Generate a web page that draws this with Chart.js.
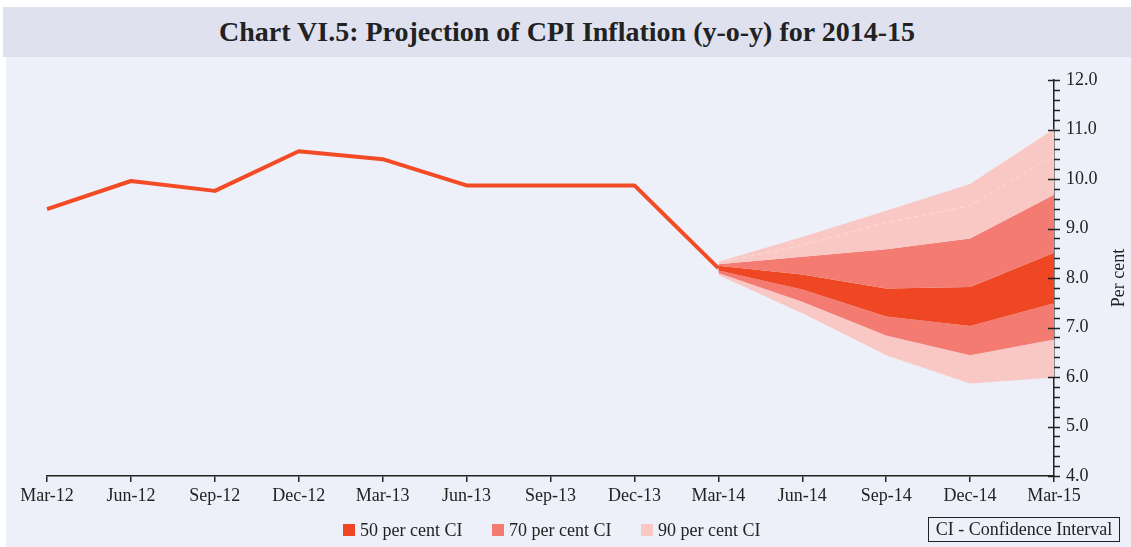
<!DOCTYPE html>
<html>
<head>
<meta charset="utf-8">
<title>Chart VI.5</title>
<script src="https://cdn.jsdelivr.net/npm/chart.js@4.4.1/dist/chart.umd.min.js"></script>
<style>
  html, body { margin: 0; padding: 0; background: #ffffff; }
  body { width: 1131px; height: 547px; position: relative; overflow: hidden; font-family: "Liberation Serif", "Times New Roman", serif; color: #222; }
  #titulo { position: absolute; left: 3px; top: 7px; width: 1128px; height: 50px; background: #dfe1ef; font-size: 28px; font-weight: bold; line-height: 50px; text-align: center; }
  #fondo { position: absolute; left: 6px; top: 57px; width: 1125px; height: 490px; background: #edf0f8; }
  #grafico { position: absolute; left: 0; top: 0; }
  #leyenda { position: absolute; left: 343px; top: 518px; display: flex; font-size: 18px; line-height: 24px; }
  #leyenda .item { width: 149px; display: flex; align-items: center; }
  #leyenda .caja { width: 12px; height: 12px; margin-right: 5px; }
  #notaCI { position: absolute; left: 928px; top: 517px; width: 190px; height: 23px; border: 1.5px solid #222; font-size: 18px; line-height: 23px; text-align: center; }
</style>
</head>
<body>
<div id="titulo">Chart VI.5: Projection of CPI Inflation (y-o-y) for 2014-15</div>
<div id="fondo"></div>
<canvas id="grafico" width="1131" height="547"></canvas>
<div id="leyenda"></div>
<div id="notaCI">CI - Confidence Interval</div>
<script>
const quarters = ["Mar-12", "Jun-12", "Sep-12", "Dec-12", "Mar-13", "Jun-13", "Sep-13", "Dec-13", "Mar-14", "Jun-14", "Sep-14", "Dec-14", "Mar-15"];
const actualCpi = [9.39, 9.96, 9.76, 10.56, 10.40, 9.87, 9.87, 9.87, 8.20, null, null, null, null];

// fan chart bands (projection from Mar-14)
const upper90 = [null, null, null, null, null, null, null, null, 8.33, 8.83, 9.36, 9.90, 11.01];
const mid90 = [null, null, null, null, null, null, null, null, 8.31, 8.66, 9.12, 9.46, 10.48];
const upper70 = [null, null, null, null, null, null, null, null, 8.28, 8.43, 8.58, 8.80, 9.68];
const upper50 = [null, null, null, null, null, null, null, null, 8.25, 8.07, 7.79, 7.82, 8.51];
const lower50 = [null, null, null, null, null, null, null, null, 8.15, 7.77, 7.22, 7.03, 7.49];
const lower70 = [null, null, null, null, null, null, null, null, 8.10, 7.52, 6.84, 6.44, 6.76];
const lower90 = [null, null, null, null, null, null, null, null, 8.06, 7.29, 6.44, 5.87, 5.99];

const yMin = 4;
const yMax = 12;
const legendLabels = ["50 per cent CI", "70 per cent CI", "90 per cent CI"];
const bandColors = ["#ef4623", "#f37b71", "#f9c7c4"];
const lineColor = "#f24b26";
const axisLabel = "Per cent";

const FUENTE = '"Liberation Serif", "Times New Roman", serif';

function renderLeyenda() {
  const cont = document.getElementById("leyenda");
  cont.innerHTML = legendLabels.map((txt, i) => `
    <div class="item"><span class="caja" style="background:${bandColors[i]}"></span><span>${txt}</span></div>
  `).join("");
}

function banda(data, color, fill) {
  return { data, fill, backgroundColor: color, borderWidth: 0, pointRadius: 0, tension: 0 };
}

// minor/major ticks on the right axis and the rotated axis title
const ejeDerecho = {
  id: "ejeDerecho",
  afterDraw(chart) {
    const ctx = chart.ctx;
    const y = chart.scales.y;
    const x0 = chart.chartArea.right;
    ctx.save();
    ctx.strokeStyle = "#222";
    ctx.lineWidth = 1.5;
    for (let k = yMin * 5; k <= yMax * 5; k++) {
      const py = Math.round(y.getPixelForValue(k / 5)) + 0.5;
      const mayor = k % 5 === 0;
      ctx.beginPath();
      ctx.moveTo(mayor ? x0 - 6 : x0, py);
      ctx.lineTo(x0 + 6, py);
      ctx.stroke();
    }
    ctx.fillStyle = "#222";
    ctx.font = "18px " + FUENTE;
    ctx.textAlign = "center";
    ctx.textBaseline = "middle";
    ctx.translate(1119, (chart.chartArea.top + chart.chartArea.bottom) / 2);
    ctx.rotate(-Math.PI / 2);
    ctx.fillText(axisLabel, 0, 0);
    ctx.restore();
  }
};

function init() {
  renderLeyenda();
  const canvas = document.getElementById("grafico");
  new Chart(canvas, {
    type: "line",
    data: {
      labels: quarters,
      datasets: [
        { data: actualCpi, borderColor: lineColor, borderWidth: 4, pointRadius: 0, fill: false, tension: 0, borderJoinStyle: "round" },
        { data: mid90, borderColor: "rgba(255,255,255,0.35)", borderWidth: 1, borderDash: [5, 3], pointRadius: 0, fill: false, tension: 0 },
        banda(upper90, bandColors[2], "+1"),
        banda(upper70, bandColors[1], "+1"),
        banda(upper50, bandColors[0], "+1"),
        banda(lower50, bandColors[1], "+1"),
        banda(lower70, bandColors[2], "+1"),
        banda(lower90, bandColors[2], false)
      ]
    },
    options: {
      responsive: false,
      animation: false,
      layout: { padding: { left: 47, top: 80, right: 0, bottom: 0 } },
      plugins: { legend: { display: false }, tooltip: { enabled: false } },
      scales: {
        x: {
          type: "category",
          offset: false,
          grid: { display: true, drawOnChartArea: false, drawTicks: true, tickLength: 6, color: "#222", lineWidth: 1.5 },
          border: { display: true, color: "#222", width: 1.5 },
          ticks: { autoSkip: false, maxRotation: 0, padding: 3, color: "#222", font: { family: FUENTE, size: 18 } },
          afterFit(scale) { scale.height = 71; }
        },
        y: {
          position: "right",
          min: yMin,
          max: yMax,
          grid: { display: false, drawTicks: false },
          border: { display: true, color: "#222", width: 1.5 },
          ticks: { stepSize: 1, padding: 12, color: "#222", font: { family: FUENTE, size: 18 }, callback: (v) => Number(v).toFixed(1) },
          afterFit(scale) { scale.width = 77; }
        }
      }
    },
    plugins: [ejeDerecho]
  });
}

if (document.readyState === "loading") {
  document.addEventListener("DOMContentLoaded", init);
} else {
  init();
}
</script>
</body>
</html>
